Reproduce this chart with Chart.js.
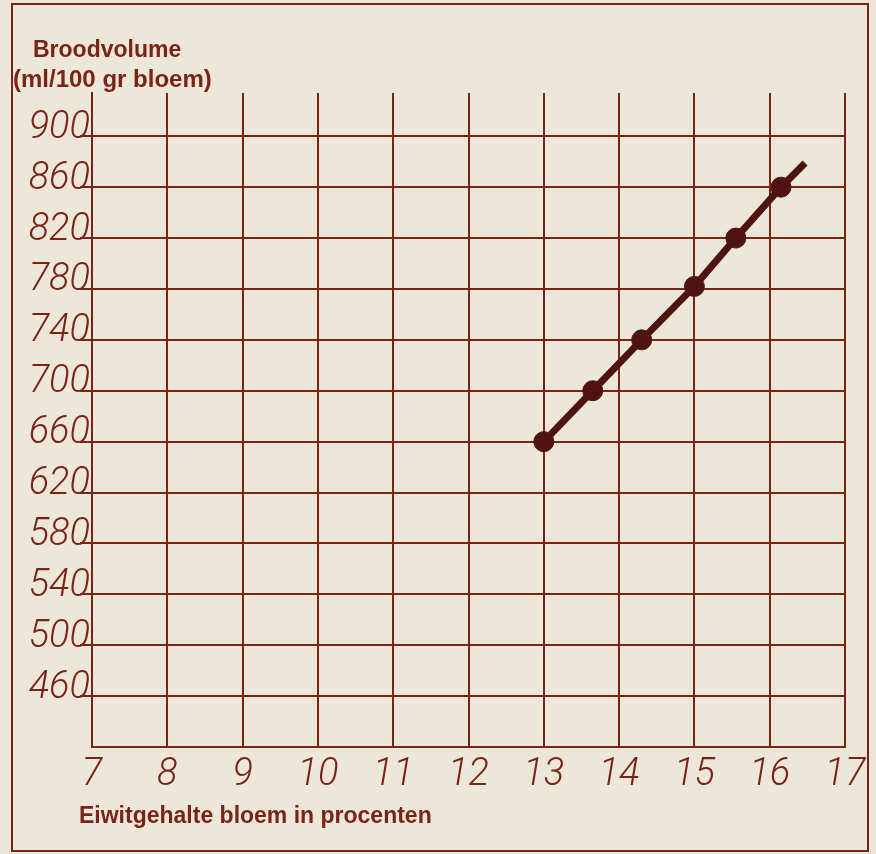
<!DOCTYPE html>
<html>
<head>
<meta charset="utf-8">
<script src="https://cdn.jsdelivr.net/npm/chart.js@4.4.1/dist/chart.umd.min.js"></script>
<style>
  html, body { margin: 0; padding: 0; background: #ede7d9; }
  #wrap { width: 876px; height: 854px; }
</style>
</head>
<body>
<div id="wrap"><canvas id="broodChart" width="876" height="854"></canvas></div>
<script>
// protein content of the flour (%) against loaf volume (ml per 100 g flour)
const eiwit = [13, 13.65, 14.3, 15, 15.55, 16.15];
const volume = [660, 700, 740, 782, 820, 860];
// the drawn line runs on a little past the last point
const lineEndX = 16.47;
const lineEndY = 879;

const xTickValues = [7, 8, 9, 10, 11, 12, 13, 14, 15, 16, 17];
const yTickValues = [460, 500, 540, 580, 620, 660, 700, 740, 780, 820, 860, 900];

const yTitle = ['Broodvolume', '(ml/100 gr bloem)'];
const xTitle = 'Eiwitgehalte bloem in procenten';

const ink = '#7a2418';
const dark = '#4f140f';
const handFont = 'Roboto, "DejaVu Sans", sans-serif';

const pointsData = eiwit.map((x, i) => ({ x: x, y: volume[i] }));
const lineData = pointsData.concat([{ x: lineEndX, y: lineEndY }]);

const frameAndTitles = {
  id: 'frameAndTitles',
  beforeDraw(chart) {
    const c = chart.ctx;
    c.save();
    c.fillStyle = '#ede7d9';
    c.fillRect(0, 0, chart.width, chart.height);
    c.strokeStyle = ink;
    c.lineWidth = 2;
    c.strokeRect(12, 4, chart.width - 20, chart.height - 7);
    c.restore();
  },
  afterDraw(chart) {
    const c = chart.ctx;
    const area = chart.chartArea;
    c.save();
    c.fillStyle = ink;
    c.textBaseline = 'alphabetic';
    c.textAlign = 'left';
    c.font = 'bold 23px "Liberation Sans", Arial, sans-serif';
    c.fillText(yTitle[0], 33, 57);
    c.font = 'bold 24px "Liberation Sans", Arial, sans-serif';
    c.fillText(yTitle[1], 13, 87);
    c.font = 'bold 23px "Liberation Sans", Arial, sans-serif';
    c.fillText(xTitle, area.left - 13, 823, 358);
    c.restore();
  }
};

new Chart(document.getElementById('broodChart'), {
  type: 'scatter',
  data: {
    datasets: [{
      data: lineData,
      showLine: true,
      borderColor: dark,
      borderWidth: 7,
      pointRadius: 0,
      borderCapStyle: 'butt'
    }, {
      data: pointsData,
      showLine: false,
      backgroundColor: dark,
      borderColor: dark,
      pointRadius: 10,
      pointHoverRadius: 10
    }]
  },
  options: {
    responsive: false,
    animation: false,
    events: [],
    layout: {
      padding: { left: 12, right: 31, top: 93, bottom: 0 }
    },
    plugins: {
      legend: { display: false },
      tooltip: { enabled: false }
    },
    scales: {
      x: {
        type: 'linear',
        min: 7,
        max: 17,
        afterBuildTicks: (scale) => {
          scale.ticks = xTickValues.map(v => ({ value: v }));
        },
        afterFit: (scale) => { scale.height = 107; },
        grid: {
          color: ink,
          lineWidth: 2,
          drawTicks: false
        },
        border: { color: ink, width: 2 },
        ticks: {
          color: ink,
          padding: 6,
          maxRotation: 0,
          font: { family: handFont, size: 38, style: 'italic', weight: 300 }
        }
      },
      y: {
        type: 'linear',
        min: 420,
        max: 934,
        afterBuildTicks: (scale) => {
          scale.ticks = [420].concat(yTickValues, [934]).map(v => ({ value: v }));
        },
        afterFit: (scale) => { scale.width = 80; },
        grid: {
          color: (ctx) => (ctx.tick && ctx.tick.value === 934) ? 'rgba(0,0,0,0)' : ink,
          tickColor: (ctx) => (ctx.tick && (ctx.tick.value === 420 || ctx.tick.value === 934)) ? 'rgba(0,0,0,0)' : ink,
          lineWidth: 2,
          tickLength: 12
        },
        border: { color: ink, width: 2 },
        ticks: {
          color: ink,
          padding: -10,
          labelOffset: -8,
          font: { family: handFont, size: 38, style: 'italic', weight: 300 },
          callback: (v) => yTickValues.includes(v) ? String(v) : ''
        }
      }
    }
  },
  plugins: [frameAndTitles]
});
</script>
</body>
</html>
